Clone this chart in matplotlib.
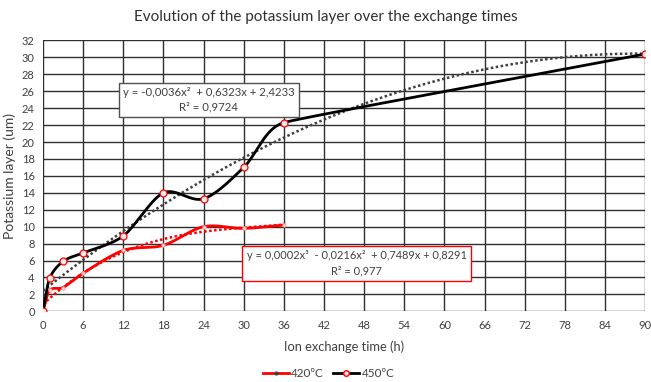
import numpy as np
import matplotlib.pyplot as plt
from matplotlib.lines import Line2D

plt.rcParams['font.family'] = ['Lato', 'DejaVu Sans']

# data
t_420 = [0, 1, 3, 6, 12, 18, 24, 30, 36]
k_420 = [0, 2.5, 2.8, 4.5, 7.2, 7.8, 10.0, 9.8, 10.2]
t_450 = [0, 1, 3, 6, 12, 18, 24, 30, 36, 90]
k_450 = [0, 3.9, 5.9, 6.9, 8.9, 14.0, 13.3, 17.0, 22.3, 30.4]

x_ticks = list(range(0, 91, 6))
y_ticks = list(range(0, 33, 2))

eq_450 = "y = -0,0036x²  + 0,6323x + 2,4233"
r2_450 = "R² = 0,9724"
eq_420 = "y = 0,0002x³  - 0,0216x²  + 0,7489x + 0,8291"
r2_420 = "R² = 0,977"

# rough pixel size of one unit, so the curve is smoothed in screen space
SX, SY = 6.7, 8.44


def smooth(x, y, n=40):
    # bezier through the points, tangent from neighbours, length from the segments
    p = np.column_stack([np.asarray(x, float) * SX, np.asarray(y, float) * SY])
    out = []
    for i in range(len(p) - 1):
        p1, p2 = p[i], p[i + 1]
        p0 = p[i - 1] if i > 0 else p1
        p3 = p[i + 2] if i + 2 < len(p) else p2
        seg = np.linalg.norm(p2 - p1)
        l1 = min(seg, np.linalg.norm(p1 - p0)) if i > 0 else seg
        l2 = min(seg, np.linalg.norm(p3 - p2)) if i + 2 < len(p) else seg
        d1 = p2 - p0
        d2 = p3 - p1
        c1 = p1 + d1 / np.linalg.norm(d1) * l1 / 3
        c2 = p2 - d2 / np.linalg.norm(d2) * l2 / 3
        s = np.linspace(0, 1, n)[:, None]
        b = (1 - s)**3 * p1 + 3 * (1 - s)**2 * s * c1 + 3 * (1 - s) * s**2 * c2 + s**3 * p2
        out.append(b)
    out = np.vstack(out)
    return out[:, 0] / SX, out[:, 1] / SY


fig = plt.figure(figsize=(6.51, 3.82), dpi=100)
ax = fig.add_axes([0.066, 0.185, 0.925, 0.709])

# trendlines
c3 = np.polyfit(t_420, k_420, 3)
xr = np.linspace(0, 36, 200)
ax.plot(xr, np.polyval(c3, xr), color='red', linestyle=(0, (1, 1)), lw=1.8, zorder=3)
c2 = np.polyfit(t_450, k_450, 2)
xb = np.linspace(0, 90, 400)
ax.plot(xb, np.polyval(c2, xb), color='#404040', linestyle=(0, (1, 1)), lw=1.8, zorder=3)

# smoothed series
sx, sy = smooth(t_420, k_420)
ax.plot(sx, sy, color='red', lw=2, zorder=4)
ax.plot(t_420, k_420, 'o', ms=2.5, mfc='#ffe0e0', mec='#ff9090', mew=0.6, zorder=5)
sx, sy = smooth(t_450, k_450)
ax.plot(sx, sy, color='black', lw=2, zorder=4)
ax.plot(t_450, k_450, 'o', ms=5, mfc='#ffe8e8', mec='red', mew=0.9, zorder=5)

ax.set_xlim(0, 90)
ax.set_ylim(0, 32)
ax.set_xticks(x_ticks)
ax.set_yticks(y_ticks)
ax.grid(True, color='#303030', lw=1)
ax.set_axisbelow(True)
for s in ax.spines.values():
    s.set_visible(False)
ax.tick_params(length=0, labelsize=8, colors='#404040', pad=6)

ax.set_xlabel('Ion exchange time (h)', fontsize=9.3, color='#404040', labelpad=7)
ax.set_ylabel('Potassium layer (um)', fontsize=10, color='#404040', labelpad=4)
fig.suptitle('Evolution of the potassium layer over the exchange times', fontsize=11,
             color='#303030', y=0.975)

ax.text(0.133, 0.78, eq_450 + '\n' + r2_450, transform=ax.transAxes, fontsize=8.2,
        color='#404040', ha='left', va='center', multialignment='center', linespacing=1.4,
        bbox=dict(boxstyle='square,pad=0.35', fc='white', ec='#505050', lw=1), zorder=6)
ax.text(0.338, 0.178, eq_420 + '\n' + r2_420, transform=ax.transAxes, fontsize=7.9,
        color='#404040', ha='left', va='center', multialignment='center', linespacing=1.45,
        bbox=dict(boxstyle='square,pad=0.4', fc='white', ec='red', lw=1), zorder=6)

handles = [Line2D([], [], color='red', lw=2, marker='o', ms=2, mfc='#404040', mec='#404040'),
           Line2D([], [], color='black', lw=2, marker='o', ms=4, mfc='#ffe8e8', mec='red')]
fig.legend(handles, ['420ºC', '450ºC'], loc='center', bbox_to_anchor=(0.505, 0.022), ncol=2,
           frameon=False, fontsize=8.5, handlelength=2.2, handletextpad=0.2, columnspacing=0.8,
           labelcolor='#404040', borderpad=0)

fig.savefig('out.png', dpi=100)
